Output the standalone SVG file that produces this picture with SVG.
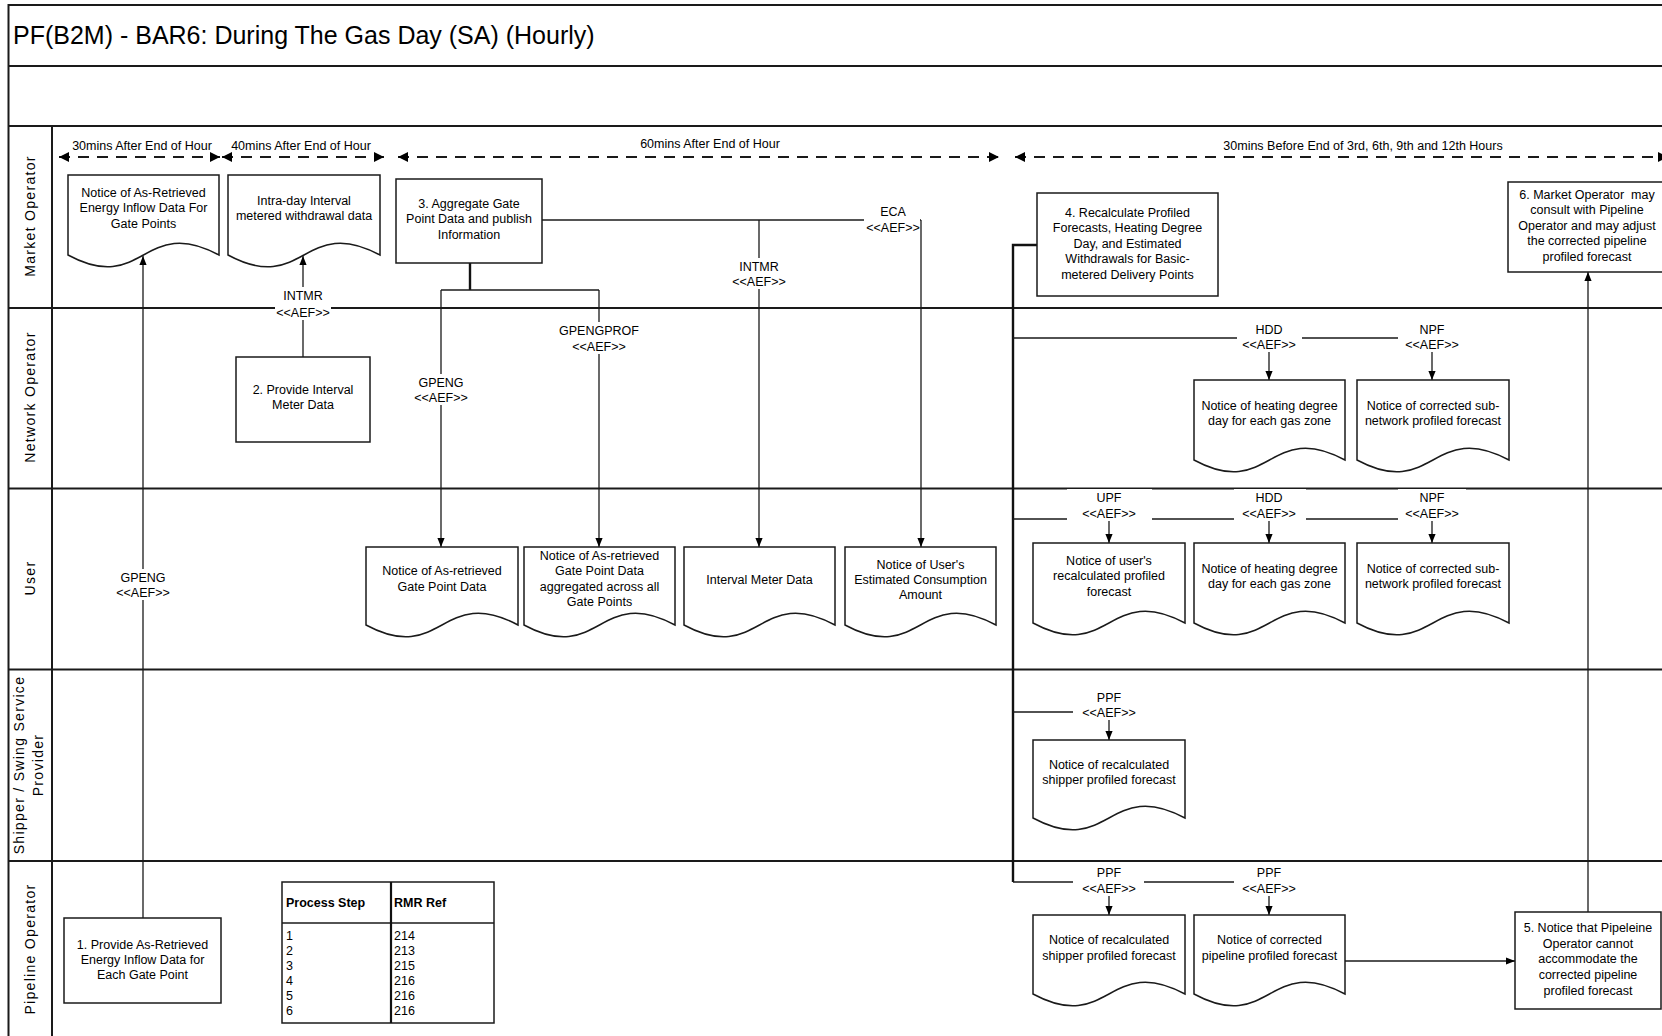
<svg xmlns="http://www.w3.org/2000/svg" width="1662" height="1036" viewBox="0 0 1662 1036">
<defs>
<style>
.t{font-family:"Liberation Sans",Arial,sans-serif;font-size:12.5px;fill:#000;text-anchor:middle}
.tl{font-family:"Liberation Sans",Arial,sans-serif;font-size:12.5px;fill:#000;text-anchor:middle}
.ln{font-family:"Liberation Sans",Arial,sans-serif;font-size:14px;fill:#000;text-anchor:middle;letter-spacing:1.3px}
.lane{fill:none;stroke:#1a1a1a;stroke-width:2}
.box{fill:#fff;stroke:#1a1a1a;stroke-width:1.5}
.c{fill:none;stroke:#1a1a1a;stroke-width:1.3}
.ca{fill:none;stroke:#1a1a1a;stroke-width:1.3;marker-end:url(#ah)}
.thick{fill:none;stroke:#111;stroke-width:2.4}
.dash{fill:none;stroke:#1a1a1a;stroke-width:2;stroke-dasharray:11 8;marker-start:url(#tah);marker-end:url(#tah)}
.lb{fill:#fff}
.tb{font-family:"Liberation Sans",Arial,sans-serif;font-size:12.5px;fill:#000}
</style>
<marker id="ah" viewBox="0 0 10 8" refX="10" refY="4" markerWidth="9" markerHeight="8" markerUnits="userSpaceOnUse" orient="auto"><path d="M0,0 L10,4 L0,8 z" fill="#000"/></marker>
<marker id="tah" viewBox="0 0 10 10" refX="10" refY="5" markerWidth="10" markerHeight="10" markerUnits="userSpaceOnUse" orient="auto-start-reverse"><path d="M0,0 L10,5 L0,10 z" fill="#000"/></marker>
</defs>
<rect width="1662" height="1036" fill="#fff"/>

<g id="frame">
<path class="lane" d="M8.5,1040 V5 H1670 M8.5,66 H1670 M8.5,126 H1670 M8.5,308 H1670 M8.5,488.5 H1670 M8.5,669.5 H1670 M8.5,861 H1670 M52,126 V1040"/>
<text x="13" y="44" style="font-family:'Liberation Sans',Arial,sans-serif;font-size:25px;fill:#000">PF(B2M) - BAR6: During The Gas Day (SA) (Hourly)</text>
</g>

<g id="lanes">
<text class="ln" transform="translate(35,216) rotate(-90)">Market Operator</text>
<text class="ln" transform="translate(35,397) rotate(-90)">Network Operator</text>
<text class="ln" transform="translate(35,578) rotate(-90)">User</text>
<text class="ln" transform="translate(24,765) rotate(-90)">Shipper / Swing Service</text>
<text class="ln" transform="translate(43,765) rotate(-90)">Provider</text>
<text class="ln" transform="translate(35,949) rotate(-90)">Pipeline Operator</text>
</g>

<g id="timeline">
<path class="dash" d="M59,157 H220"/>
<path class="dash" d="M222,157 H384"/>
<path class="dash" d="M398,157 H999"/>
<path class="dash" d="M1015,157 H1668"/>
<text class="tl" x="142" y="150">30mins After End of Hour</text>
<text class="tl" x="301" y="150">40mins After End of Hour</text>
<text class="tl" x="710" y="148">60mins After End of Hour</text>
<text class="tl" x="1363" y="150">30mins Before End of 3rd, 6th, 9th and 12th Hours</text>
</g>

<g id="connectors">
<path class="ca" d="M143,918 V256"/>
<path class="ca" d="M303,357 V256"/>
<path class="thick" d="M470,263 V290"/>
<path class="c" d="M441,290 H599"/>
<path class="ca" d="M441,290 V547"/>
<path class="ca" d="M599,290 V547"/>
<path class="c" d="M542,220 H921"/>
<path class="ca" d="M921,220 V547"/>
<path class="ca" d="M759,220 V547"/>
<path class="thick" d="M1037,245 H1013 V882"/>
<path class="ca" d="M1013,338 H1432 V380"/>
<path class="ca" d="M1269,338 V380"/>
<path class="ca" d="M1013,519 H1432 V543"/>
<path class="ca" d="M1109,519 V543"/>
<path class="ca" d="M1269,519 V543"/>
<path class="ca" d="M1013,712 H1109 V740"/>
<path class="ca" d="M1013,882 H1269 V915"/>
<path class="ca" d="M1109,882 V915"/>
<path class="ca" d="M1345,961 H1515"/>
<path class="ca" d="M1588,912 V272"/>

<rect class="lb" x="115" y="569" width="56" height="31"/>
<text class="t" x="143" y="581.5">GPENG</text><text class="t" x="143" y="596.5">&lt;&lt;AEF&gt;&gt;</text>
<rect class="lb" x="275" y="287" width="56" height="33"/>
<text class="t" x="303" y="299.5">INTMR</text><text class="t" x="303" y="316.5">&lt;&lt;AEF&gt;&gt;</text>
<rect class="lb" x="413" y="374" width="56" height="31"/>
<text class="t" x="441" y="386.5">GPENG</text><text class="t" x="441" y="401.5">&lt;&lt;AEF&gt;&gt;</text>
<rect class="lb" x="558" y="322" width="82" height="32"/>
<text class="t" x="599" y="334.5">GPENGPROF</text><text class="t" x="599" y="350.5">&lt;&lt;AEF&gt;&gt;</text>
<rect class="lb" x="731" y="258" width="56" height="31"/>
<text class="t" x="759" y="270.5">INTMR</text><text class="t" x="759" y="285.5">&lt;&lt;AEF&gt;&gt;</text>
<rect class="lb" x="864" y="203" width="56" height="32"/>
<text class="t" x="893" y="215.5">ECA</text><text class="t" x="893" y="231.5">&lt;&lt;AEF&gt;&gt;</text>
<rect class="lb" x="1237" y="321" width="65" height="31"/>
<text class="t" x="1269" y="333.5">HDD</text><text class="t" x="1269" y="348.5">&lt;&lt;AEF&gt;&gt;</text>
<rect class="lb" x="1398" y="321" width="68" height="31"/>
<text class="t" x="1432" y="333.5">NPF</text><text class="t" x="1432" y="348.5">&lt;&lt;AEF&gt;&gt;</text>
<rect class="lb" x="1067" y="489" width="85" height="32"/>
<text class="t" x="1109" y="501.5">UPF</text><text class="t" x="1109" y="517.5">&lt;&lt;AEF&gt;&gt;</text>
<rect class="lb" x="1234" y="489" width="72" height="32"/>
<text class="t" x="1269" y="501.5">HDD</text><text class="t" x="1269" y="517.5">&lt;&lt;AEF&gt;&gt;</text>
<rect class="lb" x="1398" y="489" width="68" height="32"/>
<text class="t" x="1432" y="501.5">NPF</text><text class="t" x="1432" y="517.5">&lt;&lt;AEF&gt;&gt;</text>
<rect class="lb" x="1073" y="689" width="72" height="31"/>
<text class="t" x="1109" y="701.5">PPF</text><text class="t" x="1109" y="716.5">&lt;&lt;AEF&gt;&gt;</text>
<rect class="lb" x="1073" y="864" width="71" height="32"/>
<text class="t" x="1109" y="876.5">PPF</text><text class="t" x="1109" y="892.5">&lt;&lt;AEF&gt;&gt;</text>
<rect class="lb" x="1234" y="864" width="71" height="32"/>
<text class="t" x="1269" y="876.5">PPF</text><text class="t" x="1269" y="892.5">&lt;&lt;AEF&gt;&gt;</text>
</g>

<g id="doc-mo-1"><path class="box" d="M68,175 H219 V255 C143.5,214 143.5,296 68,255 Z"/>
<text class="t" x="143.5" y="196.5">Notice of As-Retrieved</text><text class="t" x="143.5" y="212">Energy Inflow Data For</text><text class="t" x="143.5" y="227.5">Gate Points</text></g>
<g id="doc-mo-2"><path class="box" d="M228,175 H380 V255 C304,214 304,296 228,255 Z"/>
<text class="t" x="304" y="204.5">Intra-day Interval</text><text class="t" x="304" y="219.5">metered withdrawal data</text></g>
<g id="step3"><rect class="box" x="396" y="179" width="146" height="84"/>
<text class="t" x="469" y="207.5">3. Aggregate Gate</text><text class="t" x="469" y="223">Point Data and publish</text><text class="t" x="469" y="238.5">Information</text></g>
<g id="step4"><rect class="box" x="1037" y="193" width="181" height="103"/>
<text class="t" x="1127.5" y="216.5">4. Recalculate Profiled</text><text class="t" x="1127.5" y="232">Forecasts, Heating Degree</text><text class="t" x="1127.5" y="247.5">Day, and Estimated</text><text class="t" x="1127.5" y="263">Withdrawals for Basic-</text><text class="t" x="1127.5" y="278.5">metered Delivery Points</text></g>
<g id="step6"><rect class="box" x="1508" y="182" width="155" height="90"/>
<text class="t" x="1587" y="198.5" xml:space="preserve">6. Market Operator  may</text><text class="t" x="1587" y="214">consult with Pipeline</text><text class="t" x="1587" y="229.5">Operator and may adjust</text><text class="t" x="1587" y="245">the corrected pipeline</text><text class="t" x="1587" y="260.5">profiled forecast</text></g>

<g id="step2"><rect class="box" x="236" y="357" width="134" height="85"/>
<text class="t" x="303" y="393.5">2. Provide Interval</text><text class="t" x="303" y="408.5">Meter Data</text></g>
<g id="doc-no-hdd"><path class="box" d="M1194,380 H1345 V460 C1269.5,419 1269.5,501 1194,460 Z"/>
<text class="t" x="1269.5" y="409.5">Notice of heating degree</text><text class="t" x="1269.5" y="424.5">day for each gas zone</text></g>
<g id="doc-no-npf"><path class="box" d="M1357,380 H1509 V460 C1433,419 1433,501 1357,460 Z"/>
<text class="t" x="1433" y="409.5">Notice of corrected sub-</text><text class="t" x="1433" y="424.5">network profiled forecast</text></g>

<g id="doc-u-a"><path class="box" d="M366,547 H518 V625 C442,584 442,666 366,625 Z"/>
<text class="t" x="442" y="574.5">Notice of As-retrieved</text><text class="t" x="442" y="590.5">Gate Point Data</text></g>
<g id="doc-u-b"><path class="box" d="M524,547 H675 V625 C599.5,584 599.5,666 524,625 Z"/>
<text class="t" x="599.5" y="559.5">Notice of As-retrieved</text><text class="t" x="599.5" y="575">Gate Point Data</text><text class="t" x="599.5" y="590.5">aggregated across all</text><text class="t" x="599.5" y="606">Gate Points</text></g>
<g id="doc-u-c"><path class="box" d="M684,547 H835 V625 C759.5,584 759.5,666 684,625 Z"/>
<text class="t" x="759.5" y="583.5">Interval Meter Data</text></g>
<g id="doc-u-d"><path class="box" d="M845,547 H996 V625 C920.5,584 920.5,666 845,625 Z"/>
<text class="t" x="920.5" y="568.5">Notice of User's</text><text class="t" x="920.5" y="583.5">Estimated Consumption</text><text class="t" x="920.5" y="598.5">Amount</text></g>
<g id="doc-u-upf"><path class="box" d="M1033,543 H1185 V623 C1109,582 1109,664 1033,623 Z"/>
<text class="t" x="1109" y="564.5">Notice of user's</text><text class="t" x="1109" y="580">recalculated profiled</text><text class="t" x="1109" y="595.5">forecast</text></g>
<g id="doc-u-hdd"><path class="box" d="M1194,543 H1345 V623 C1269.5,582 1269.5,664 1194,623 Z"/>
<text class="t" x="1269.5" y="572.5">Notice of heating degree</text><text class="t" x="1269.5" y="587.5">day for each gas zone</text></g>
<g id="doc-u-npf"><path class="box" d="M1357,543 H1509 V623 C1433,582 1433,664 1357,623 Z"/>
<text class="t" x="1433" y="572.5">Notice of corrected sub-</text><text class="t" x="1433" y="587.5">network profiled forecast</text></g>

<g id="doc-s-ppf"><path class="box" d="M1033,740 H1185 V818 C1109,777 1109,859 1033,818 Z"/>
<text class="t" x="1109" y="768.5">Notice of recalculated</text><text class="t" x="1109" y="783.5">shipper profiled forecast</text></g>

<g id="step1"><rect class="box" x="64" y="918" width="157" height="85"/>
<text class="t" x="142.5" y="948.5">1. Provide As-Retrieved</text><text class="t" x="142.5" y="963.5">Energy Inflow Data for</text><text class="t" x="142.5" y="978.5">Each Gate Point</text></g>
<g id="table">
<rect class="box" x="282" y="882" width="212" height="141"/>
<path class="c" d="M282,923 H494"/>
<path fill="none" stroke="#111" stroke-width="2.2" d="M391,882 V1023"/>
<text class="tb" x="286" y="906.5" font-weight="bold">Process Step</text>
<text class="tb" x="394" y="906.5" font-weight="bold">RMR Ref</text>
<text class="tb" x="286" y="939.5" fill="#444">1</text><text class="tb" x="394" y="939.5">214</text>
<text class="tb" x="286" y="954.5" fill="#444">2</text><text class="tb" x="394" y="954.5">213</text>
<text class="tb" x="286" y="969.5" fill="#444">3</text><text class="tb" x="394" y="969.5">215</text>
<text class="tb" x="286" y="984.5">4</text><text class="tb" x="394" y="984.5">216</text>
<text class="tb" x="286" y="999.5" fill="#444">5</text><text class="tb" x="394" y="999.5">216</text>
<text class="tb" x="286" y="1014.5" fill="#444">6</text><text class="tb" x="394" y="1014.5">216</text>
</g>
<g id="doc-p-spf"><path class="box" d="M1033,915 H1185 V994 C1109,953 1109,1035 1033,994 Z"/>
<text class="t" x="1109" y="943.5">Notice of recalculated</text><text class="t" x="1109" y="960">shipper profiled forecast</text></g>
<g id="doc-p-ppf"><path class="box" d="M1194,915 H1345 V994 C1269.5,953 1269.5,1035 1194,994 Z"/>
<text class="t" x="1269.5" y="943.5">Notice of corrected</text><text class="t" x="1269.5" y="960">pipeline profiled forecast</text></g>
<g id="step5"><rect class="box" x="1515" y="912" width="146" height="97"/>
<text class="t" x="1588" y="931.5">5. Notice that Pipeleine</text><text class="t" x="1588" y="947.5">Operator cannot</text><text class="t" x="1588" y="962.5">accommodate the</text><text class="t" x="1588" y="978.5">corrected pipeline</text><text class="t" x="1588" y="994.5">profiled forecast</text></g>
</svg>
